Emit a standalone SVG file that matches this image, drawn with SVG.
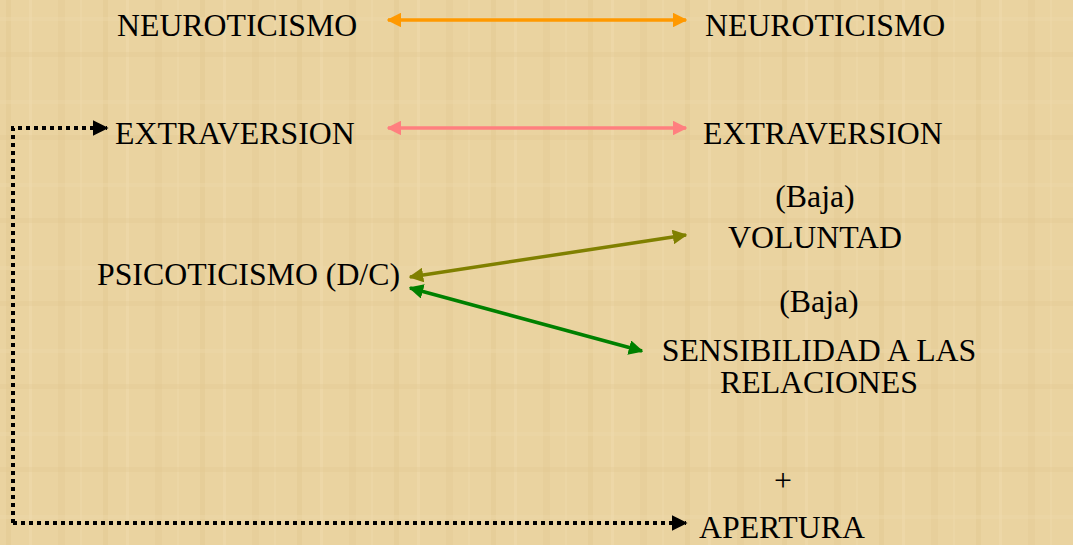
<svg xmlns="http://www.w3.org/2000/svg" width="1073" height="545" viewBox="0 0 1073 545">
  <defs>
    <pattern id="paper" width="97" height="83" patternUnits="userSpaceOnUse">
      <rect width="97" height="83" fill="#EAD3A0"/>
      <rect x="6" y="0" width="5" height="83" fill="#E0C68C" opacity="0.35"/>
      <rect x="29" y="0" width="3" height="83" fill="#F2DFB3" opacity="0.35"/>
      <rect x="58" y="0" width="7" height="83" fill="#E2C88E" opacity="0.3"/>
      <rect x="80" y="0" width="2" height="83" fill="#F0DCAE" opacity="0.35"/>
      <rect x="0" y="17" width="97" height="4" fill="#F0DCAE" opacity="0.3"/>
      <rect x="0" y="52" width="97" height="5" fill="#E2C88E" opacity="0.3"/>
    </pattern>
    <marker id="ahOrange" viewBox="0 0 10 10" refX="9" refY="5" markerWidth="4.2" markerHeight="4.2" orient="auto-start-reverse" markerUnits="strokeWidth">
      <path d="M0,0 L10,5 L0,10 z" fill="#FF9900"/>
    </marker>
    <marker id="ahPink" viewBox="0 0 10 10" refX="9" refY="5" markerWidth="4.2" markerHeight="4.2" orient="auto-start-reverse" markerUnits="strokeWidth">
      <path d="M0,0 L10,5 L0,10 z" fill="#FF7F7F"/>
    </marker>
    <marker id="ahOlive" viewBox="0 0 10 10" refX="9" refY="5" markerWidth="4.2" markerHeight="4.2" orient="auto-start-reverse" markerUnits="strokeWidth">
      <path d="M0,0 L10,5 L0,10 z" fill="#808000"/>
    </marker>
    <marker id="ahGreen" viewBox="0 0 10 10" refX="9" refY="5" markerWidth="4.2" markerHeight="4.2" orient="auto-start-reverse" markerUnits="strokeWidth">
      <path d="M0,0 L10,5 L0,10 z" fill="#008000"/>
    </marker>
    <marker id="ahBlack" viewBox="0 0 10 10" refX="9" refY="5" markerWidth="4" markerHeight="4" orient="auto" markerUnits="strokeWidth">
      <path d="M0,0 L10,5 L0,10 z" fill="#000000"/>
    </marker>
  </defs>
  <style>
    .t { font-family: "Liberation Serif", "Times New Roman", serif; font-size: 31.8px; fill: #000000; }
    .c { text-anchor: middle; }
    .conn { fill: none; stroke-width: 3.5; }
    .dot { fill: none; stroke: #000000; stroke-width: 4; stroke-dasharray: 4 4; }
  </style>
  <rect width="1073" height="545" fill="url(#paper)"/>

  <g id="connectors">
    <line class="conn" x1="388" y1="20" x2="686" y2="20" stroke="#FF9900" marker-start="url(#ahOrange)" marker-end="url(#ahOrange)"/>
    <line class="conn" x1="388" y1="128" x2="686" y2="128" stroke="#FF7F7F" marker-start="url(#ahPink)" marker-end="url(#ahPink)"/>
    <line class="conn" x1="410" y1="277" x2="686" y2="235" stroke="#808000" marker-start="url(#ahOlive)" marker-end="url(#ahOlive)"/>
    <line class="conn" x1="410" y1="288" x2="642" y2="351" stroke="#008000" marker-start="url(#ahGreen)" marker-end="url(#ahGreen)"/>
    <path class="dot" d="M13,523 L13,128 L107,128" marker-end="url(#ahBlack)"/>
    <path class="dot" d="M13,523 L686,523" marker-end="url(#ahBlack)"/>
  </g>

  <g id="neuroticismo-left"><text class="t" x="117" y="36">NEUROTICISMO</text></g>
  <g id="neuroticismo-right"><text class="t" x="705" y="36">NEUROTICISMO</text></g>
  <g id="extraversion-left"><text class="t" x="115" y="144">EXTRAVERSION</text></g>
  <g id="extraversion-right"><text class="t" x="703" y="144">EXTRAVERSION</text></g>
  <g id="psicoticismo"><text class="t" x="97" y="285">PSICOTICISMO (D/C)</text></g>
  <g id="voluntad">
    <text class="t c" x="815" y="207">(Baja)</text>
    <text class="t c" x="815" y="248">VOLUNTAD</text>
  </g>
  <g id="sensibilidad">
    <text class="t c" x="819" y="312">(Baja)</text>
    <text class="t c" x="819" y="361">SENSIBILIDAD A LAS</text>
    <text class="t c" x="819" y="393">RELACIONES</text>
  </g>
  <g id="apertura">
    <text class="t c" x="783" y="491">+</text>
    <text class="t" x="699" y="538">APERTURA</text>
  </g>
</svg>
